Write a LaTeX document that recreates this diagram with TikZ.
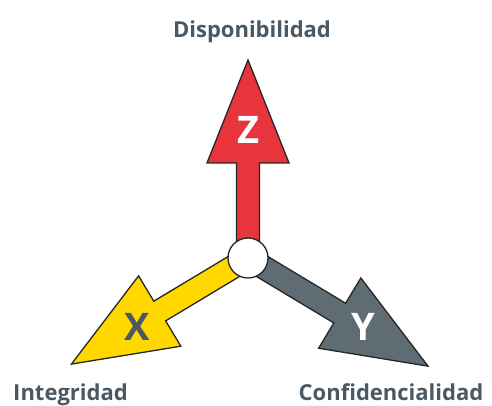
\documentclass[tikz,border=0pt]{standalone}
\usepackage{fontspec}
\setmainfont{Open Sans}
\definecolor{zred}{HTML}{E8343C}
\definecolor{xyellow}{HTML}{FFD800}
\definecolor{ygrey}{HTML}{606C74}
\definecolor{textgrey}{HTML}{4A5863}

\begin{document}
\begin{tikzpicture}[
    x=1pt, y=1pt,
    axis/.style={draw=black!85, line width=1.3pt, line join=miter},
    letter/.style={font=\bfseries\fontsize{38}{38}\selectfont},
    axislabel/.style={font=\bfseries\fontsize{22}{22}\selectfont, text=textgrey, anchor=base}
]
\useasboundingbox (0,0) rectangle (492,406);

% Arrows
\foreach \ang/\len/\col in {90/198/zred, 211/206/xyellow, -31/210/ygrey}
  \draw[axis, fill=\col, shift={(248,148)}, rotate=\ang]
    (0,-11.5) -- (\len-103,-11.5) -- (\len-103,-41) -- (\len,0)
    -- (\len-103,41) -- (\len-103,11.5) -- (0,11.5) -- cycle;

% Origin
\node [circle, draw=black!85, line width=1.3pt, fill=white, minimum size=40pt, inner sep=0pt] (origin) at (248,148) {};

% Letters
\node [letter, text=white] (z-letter) at (248,276) {Z};
\node [letter, text=textgrey] (x-letter) at (137,79) {X};
\node [letter, text=white] (y-letter) at (363,79) {Y};

% Labels
\node [axislabel] (disponibilidad) at (252,368) {Disponibilidad};
\node [axislabel] (integridad) at (70.5,5) {Integridad};
\node [axislabel] (confidencialidad) at (391,5) {Confidencialidad};
\end{tikzpicture}
\end{document}
